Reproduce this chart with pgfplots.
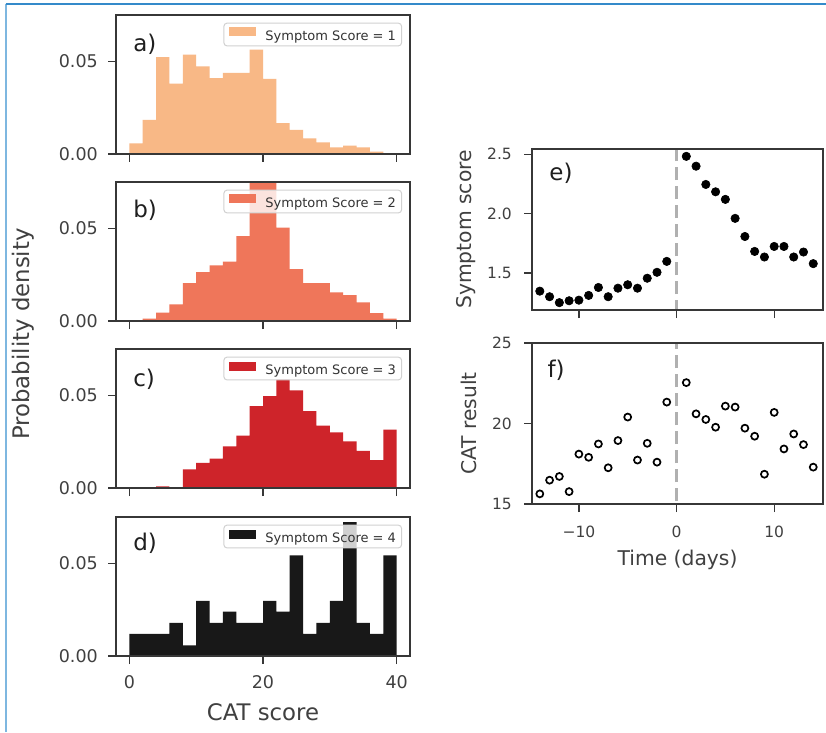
\documentclass[border=0pt]{standalone}
\usepackage{pgfplots}
\usepackage{pgfplotstable}
\pgfplotsset{compat=1.18}
\usepackage{fontspec}
\setmainfont{DejaVu Sans}

\definecolor{sone}{RGB}{248,184,134}
\definecolor{stwo}{RGB}{239,118,90}
\definecolor{sthree}{RGB}{206,36,42}
\definecolor{sfour}{RGB}{24,24,24}
\definecolor{txt}{RGB}{64,64,64}
\definecolor{spine}{RGB}{55,55,55}
\definecolor{vline}{RGB}{176,176,176}
\definecolor{frametop}{RGB}{52,138,202}
\definecolor{frameleft}{RGB}{126,183,224}

% CAT score histograms (density, bins of width 2 from 0 to 40)
\pgfplotstableread{
x y
0 0.0057
2 0.0184
4 0.0523
6 0.0380
8 0.0536
10 0.0473
12 0.0410
14 0.0438
16 0.0438
18 0.0563
20 0.0405
22 0.0166
24 0.0130
26 0.0084
28 0.0063
30 0.0036
32 0.0045
34 0.0036
36 0.0013
38 0.0000
40 0.0000
}\histA
\pgfplotstableread{
x y
0 0.0004
2 0.0013
4 0.0045
6 0.0090
8 0.0205
10 0.0264
12 0.0300
14 0.0320
16 0.0458
18 0.0850
20 0.0800
22 0.0504
24 0.0280
26 0.0204
28 0.0204
30 0.0155
32 0.0140
34 0.0100
36 0.0042
38 0.0013
40 0.0013
}\histB
\pgfplotstableread{
x y
0 0.0000
2 0.0000
4 0.0009
6 0.0000
8 0.0100
10 0.0136
12 0.0158
14 0.0224
16 0.0282
18 0.0442
20 0.0496
22 0.0587
24 0.0527
26 0.0415
28 0.0336
30 0.0300
32 0.0251
34 0.0200
36 0.0151
38 0.0315
40 0.0315
}\histC
\pgfplotstableread{
x y
0 0.0120
2 0.0120
4 0.0120
6 0.0179
8 0.0057
10 0.0298
12 0.0179
14 0.0239
16 0.0179
18 0.0179
20 0.0298
22 0.0239
24 0.0543
26 0.0120
28 0.0179
30 0.0298
32 0.0722
34 0.0179
36 0.0120
38 0.0543
40 0.0543
}\histD

% daily means around the event at day 0
\pgfplotstableread{
t s
-14 1.346
-13 1.299
-12 1.249
-11 1.265
-10 1.270
-9 1.310
-8 1.377
-7 1.299
-6 1.371
-5 1.400
-4 1.371
-3 1.455
-2 1.505
-1 1.597
1 2.483
2 2.400
3 2.246
4 2.184
5 2.120
6 1.960
7 1.807
8 1.681
9 1.634
10 1.723
11 1.723
12 1.634
13 1.676
14 1.578
}\symptom
\pgfplotstableread{
t c
-14 15.63
-13 16.48
-12 16.71
-11 15.77
-10 18.10
-9 17.90
-8 18.73
-7 17.25
-6 18.94
-5 20.40
-4 17.73
-3 18.77
-2 17.60
-1 21.33
1 22.54
2 20.60
3 20.25
4 19.77
5 21.08
6 21.02
7 19.71
8 19.21
9 16.85
10 20.69
11 18.42
12 19.35
13 18.69
14 17.29
}\catresult

\tikzset{letter/.style={anchor=base west, font=\fontsize{23}{23}\selectfont, text=black!88, inner sep=0pt}}

\pgfplotsset{
  panel/.style={
    scale only axis, anchor=south west, axis on top,
    axis line style={spine, line width=1.3pt},
    every tick/.style={spine, line width=1.3pt},
    major tick length=8pt,
    tick align=outside,
    xtick pos=bottom, ytick pos=left,
    scaled ticks=false,
    ticklabel style={text=txt, inner sep=0pt},
    xticklabel style={anchor=base},
    yticklabel style={anchor=east},
    clip=true,
  },
  hist/.style={panel, width=294pt, height=139pt,
    xmin=-2, xmax=42, ymin=0, ymax=0.075,
    xtick={0,20,40}, xticklabels={,,},
    ytick={0,0.05}, yticklabels={0.00,0.05},
    ticklabel style={font=\fontsize{17.5}{17.5}\selectfont},
    yticklabel style={xshift=-10pt},
    xticklabel style={yshift=-24.3pt},
    legend cell align=left,
    legend style={at={(1,1)}, anchor=north east, xshift=-8pt, yshift=-7.7pt,
      draw=black!18, line width=1pt, rounded corners=3pt,
      fill=white, fill opacity=0.8, draw opacity=1, text opacity=1,
      font=\fontsize{13}{13}\selectfont, text=black!80,
      inner xsep=5.5pt, inner ysep=4.3pt,
      nodes={inner sep=0pt}, column sep=0pt},
  },
  histlegend/.style={legend image code/.code={%
      \fill[#1, fill opacity=1, sharp corners] (0pt,-0.5pt) rectangle (27pt,8.5pt);
      \path (36pt,0pt);}},
  timeline/.style={panel, width=291pt, height=161pt,
    xmin=-14.8, xmax=15, xtick={-10,0,10},
    ticklabel style={font=\fontsize{15.5}{15.5}\selectfont},
    yticklabel style={xshift=-12pt},
    xticklabel style={yshift=-25.3pt},
    ylabel style={anchor=base, font=\fontsize{20.3}{20.3}\selectfont, text=txt},
    xlabel style={anchor=base, font=\fontsize{20.3}{20.3}\selectfont, text=txt},
  },
}

\begin{document}
\begin{tikzpicture}[x=1pt,y=1pt]
\useasboundingbox (0,0) rectangle (826,732);
\fill[white] (0,0) rectangle (826,732);
\draw[frameleft, line width=1.6pt] (5.7,0) -- (5.7,728.3);
\draw[frametop, line width=1.6pt] (5.7,728) -- (826,728);

% a) score 1
\begin{axis}[hist, at={(116pt,578pt)}, histlegend=sone]
\addplot[fill=sone, draw=none, const plot] table {\histA} \closedcycle;
\addlegendentry{Symptom Score = 1}
\node[letter] at (axis description cs:0.058,0.735) {a)};
\end{axis}

% b) score 2
\begin{axis}[hist, at={(116pt,411pt)}, histlegend=stwo]
\addplot[fill=stwo, draw=none, const plot] table {\histB} \closedcycle;
\addlegendentry{Symptom Score = 2}
\node[letter] at (axis description cs:0.058,0.745) {b)};
\end{axis}

% c) score 3
\begin{axis}[hist, at={(116pt,244pt)}, histlegend=sthree]
\addplot[fill=sthree, draw=none, const plot] table {\histC} \closedcycle;
\addlegendentry{Symptom Score = 3}
\node[letter] at (axis description cs:0.058,0.73) {c)};
\end{axis}

% d) score 4
\begin{axis}[hist, at={(116pt,76pt)}, histlegend=sfour,
    xticklabels={0,20,40},
    xlabel={CAT score},
    xlabel style={at={(axis description cs:0.5,-0.4604)}, anchor=base,
      font=\fontsize{22.8}{22.8}\selectfont, text=txt}]
\addplot[fill=sfour, draw=none, const plot] table {\histD} \closedcycle;
\addlegendentry{Symptom Score = 4}
\node[letter] at (axis description cs:0.058,0.76) {d)};
\end{axis}

\node[rotate=90, anchor=base, font=\fontsize{22.8}{22.8}\selectfont, text=txt, inner sep=0pt]
  at (29.5,398) {Probability density};

% e) symptom score over time
\begin{axis}[timeline, at={(532pt,422pt)},
    ymin=1.187, ymax=2.545,
    xticklabels={,,},
    ytick={1.5,2.0,2.5}, yticklabels={1.5,2.0,2.5},
    ylabel={Symptom score},
    ylabel style={at={(axis description cs:-0.2096,0.5)}}]
\addplot[vline, line width=3pt, dash pattern=on 13pt off 6pt] coordinates {(0,1.0) (0,2.7)};
\addplot[only marks, mark=*, mark size=4.2pt,
  mark options={fill=black, draw=black, line width=0.6pt}] table[x=t, y=s] {\symptom};
\node[letter] at (axis description cs:0.059,0.807) {e)};
\end{axis}

% f) CAT result over time
\begin{axis}[timeline, at={(532pt,228pt)},
    ymin=15, ymax=25,
    xticklabels={−10,0,10},
    ytick={15,20,25}, yticklabels={15,20,25},
    ylabel={CAT result},
    ylabel style={at={(axis description cs:-0.1924,0.5)}},
    xlabel={Time (days)},
    xlabel style={at={(axis description cs:0.5,-0.385)}}]
\addplot[vline, line width=3pt, dash pattern=on 13pt off 6pt] coordinates {(0,14) (0,26)};
\addplot[only marks, mark=o, mark size=3.5pt,
  mark options={draw=black, line width=1.7pt}] table[x=t, y=c] {\catresult};
\node[letter] at (axis description cs:0.053,0.787) {f)};
\end{axis}
\end{tikzpicture}
\end{document}
